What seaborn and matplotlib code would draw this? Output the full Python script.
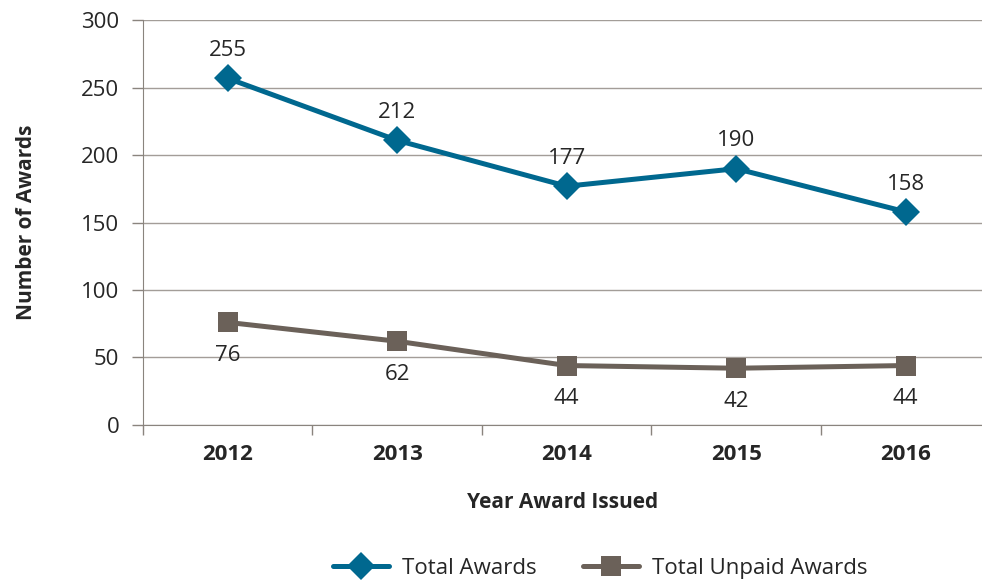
import seaborn as sns
import pandas as pd
import matplotlib.pyplot as plt

# chart data
years = ['2012', '2013', '2014', '2015', '2016']
total_awards = [257, 211, 177, 190, 158]
unpaid_awards = [76, 62, 44, 42, 44]
total_labels = ['255', '212', '177', '190', '158']
unpaid_labels = ['76', '62', '44', '42', '44']

blue = '#00688f'
grey = '#6b6159'

df = pd.DataFrame({'Year': years * 2,
                   'Awards': total_awards + unpaid_awards,
                   'Series': ['Total Awards'] * 5 + ['Total Unpaid Awards'] * 5})

sns.set_style('white')
plt.rcParams['font.family'] = ['Open Sans', 'DejaVu Sans']

fig = plt.figure(figsize=(9.82, 5.82), dpi=100)
ax = fig.add_axes([0.1456, 0.27, 0.8544, 0.695])

sns.lineplot(data=df, x='Year', y='Awards', hue='Series', style='Series',
             palette=[blue, grey], markers=['D', 's'], dashes=False,
             linewidth=3.6, markersize=14, markeredgewidth=0, ax=ax, sort=False)

for i, lab in enumerate(total_labels):
    ax.annotate(lab, (i, total_awards[i]), xytext=(0, 20), textcoords='offset points',
                ha='center', va='center', fontsize=16)
for i, lab in enumerate(unpaid_labels):
    ax.annotate(lab, (i, unpaid_awards[i]), xytext=(0, -24), textcoords='offset points',
                ha='center', va='center', fontsize=16)

ax.set_yticks(range(0, 301, 50))
ax.yaxis.grid(True, color='#a39d98', linewidth=1)
ax.set_xticks(range(5))
ax.set_xticklabels(years, fontweight='bold', fontsize=16)
ax.set_xticks([i - 0.5 for i in range(6)], minor=True)
ax.set_ylim(0, 300)
ax.set_xlim(-0.5, 4.45)
ax.tick_params(axis='x', which='major', length=0, pad=14)
ax.tick_params(axis='x', which='minor', length=7, color='#8a847e', width=1, direction='out', bottom=True)
ax.tick_params(axis='y', length=8, color='#8a847e', width=1, direction='out', left=True, labelsize=16, pad=9)

for s in ['top', 'right']:
    ax.spines[s].set_visible(False)
ax.spines['left'].set_color('#8a847e')
ax.spines['bottom'].set_color('#8a847e')

ax.set_xlabel('Year Award Issued', fontweight='bold', fontsize=15, labelpad=19)
ax.set_ylabel('Number of Awards', fontweight='bold', fontsize=15, labelpad=32)

handles, labels = ax.get_legend_handles_labels()
ax.legend(handles, labels, loc='center', bbox_to_anchor=(0.545, -0.355), ncol=2,
          frameon=False, fontsize=16, handlelength=2.5, handletextpad=0.6, columnspacing=2.1)

fig.savefig('out.png', dpi=100)
